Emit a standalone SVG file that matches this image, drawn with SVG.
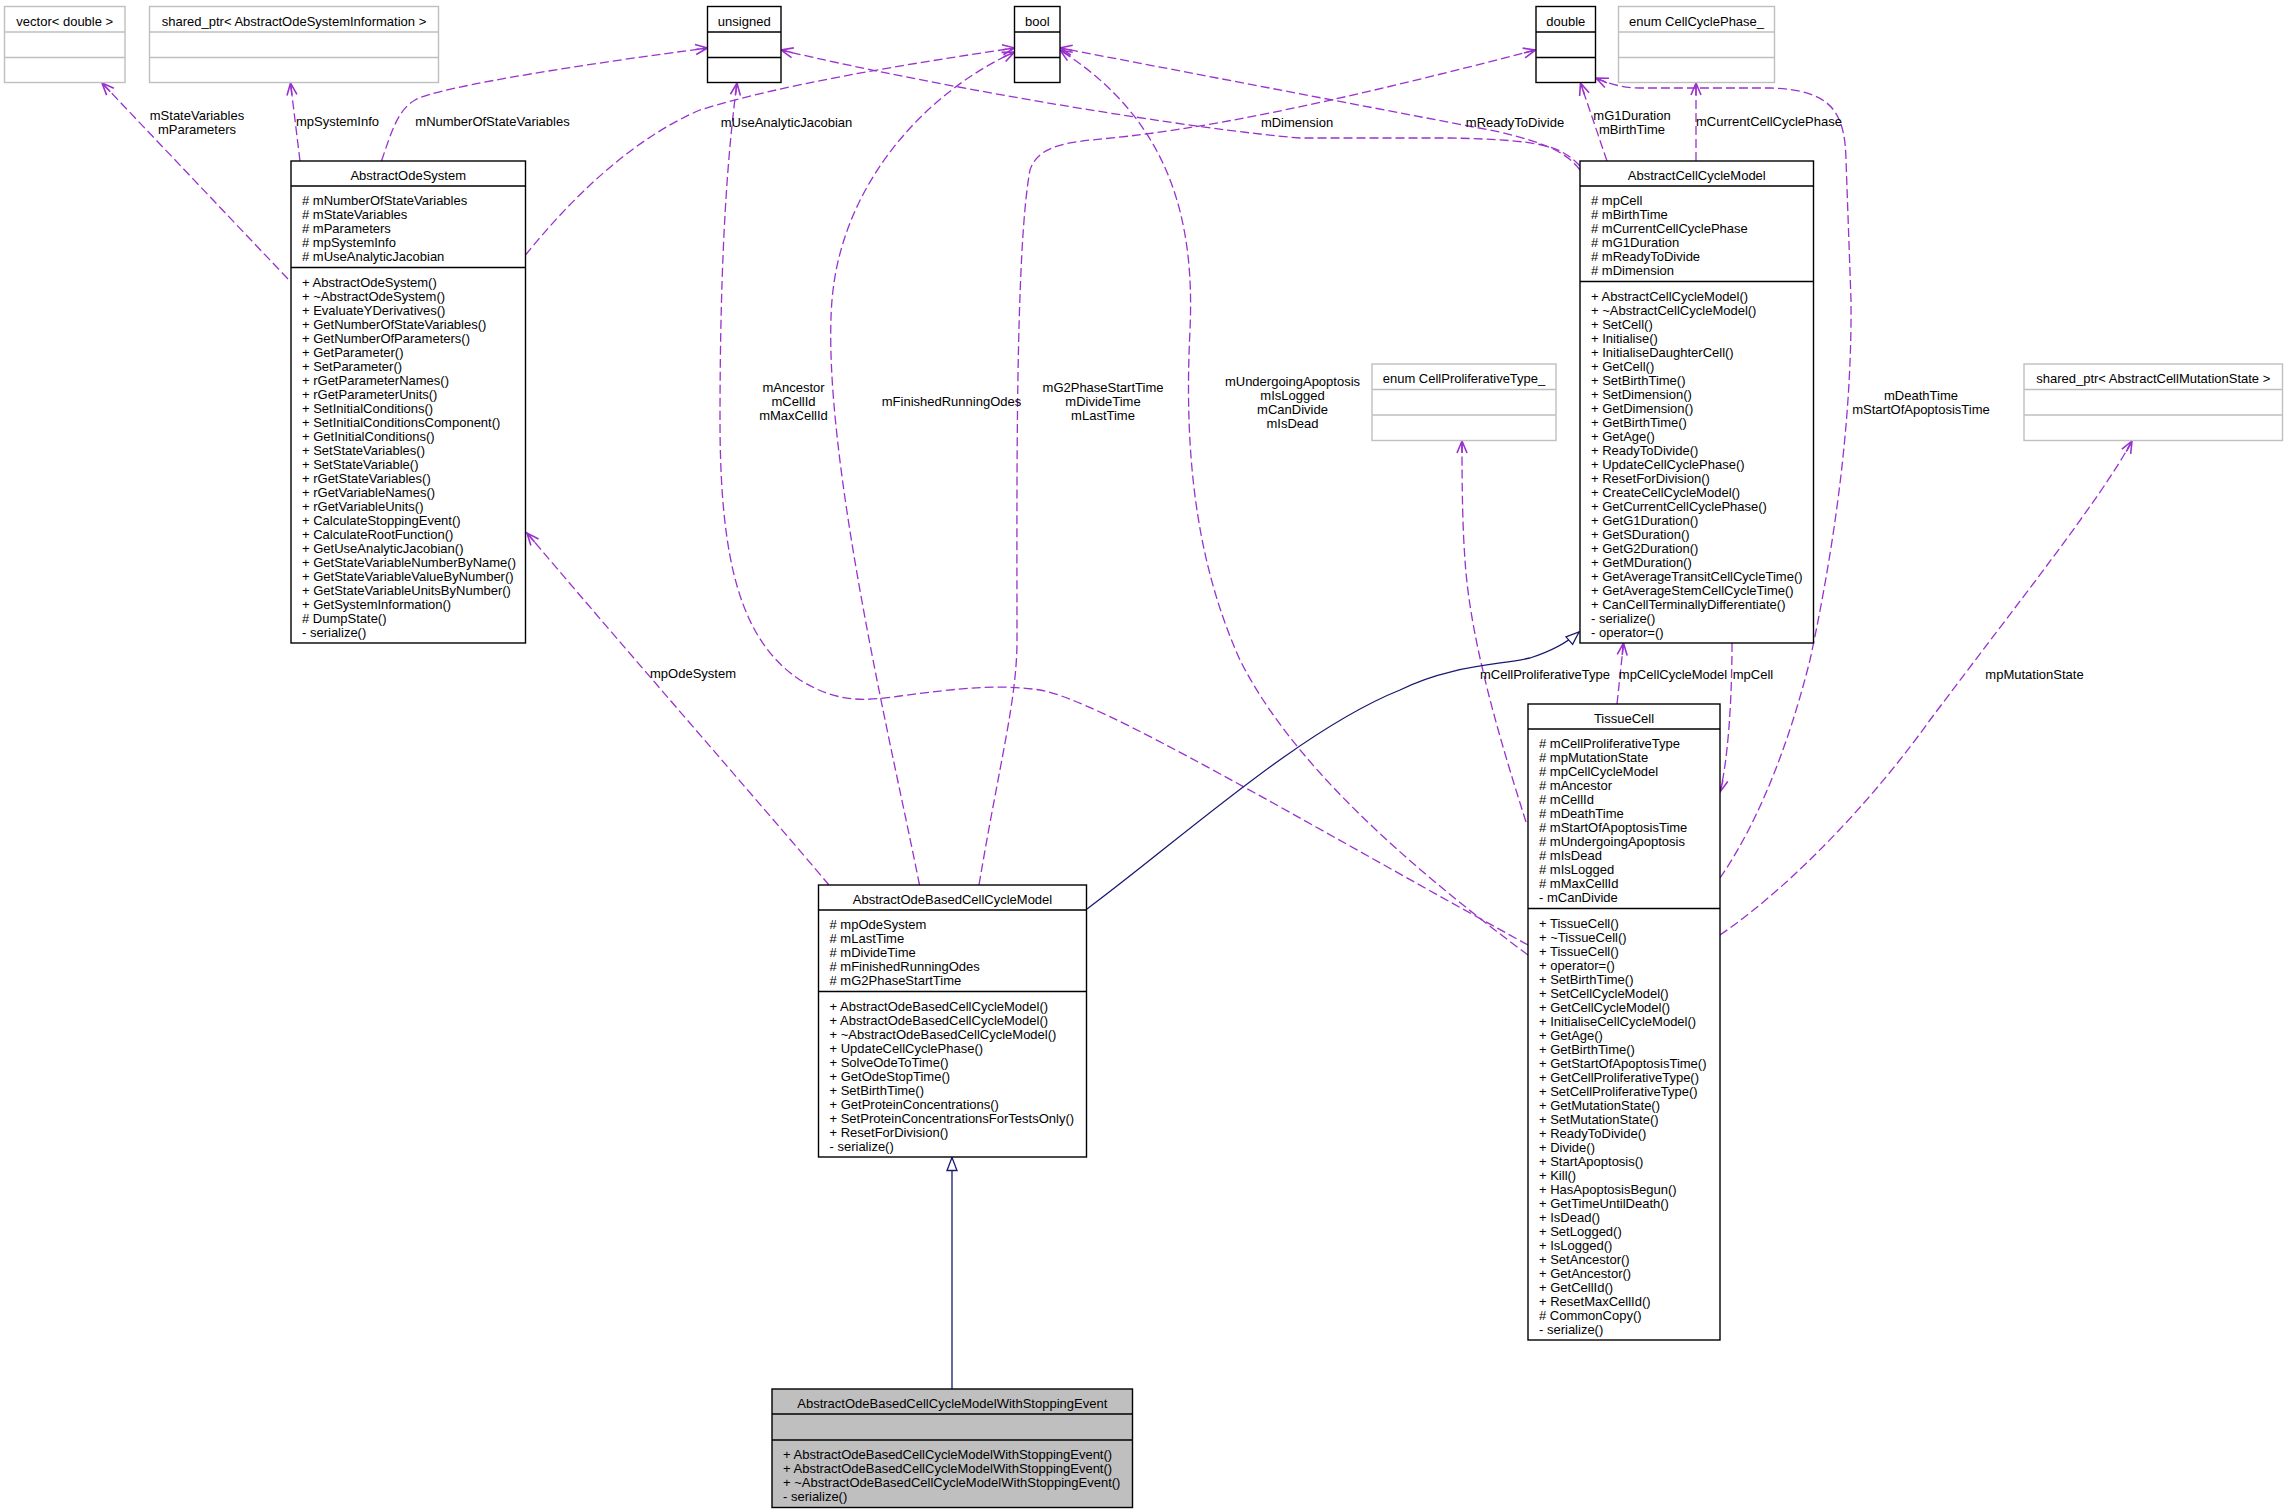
<svg xmlns="http://www.w3.org/2000/svg" width="2288" height="1512" viewBox="0 0 2288 1512">
<style>
text{font-family:"Liberation Sans",Arial,Helvetica,sans-serif;font-size:13px;fill:#000}
.t{text-anchor:middle}
.box{fill:#fff;stroke:#000;stroke-width:1.4}
.ext{fill:#fff;stroke:#bfbfbf;stroke-width:1.4}
.sel{fill:#bfbfbf;stroke:#000;stroke-width:1.4}
.sep{stroke:#000;stroke-width:1.4}
.sepx{stroke:#bfbfbf;stroke-width:1.4}
.use{fill:none;stroke:#9a32cd;stroke-width:1.3;stroke-dasharray:9,4;marker-end:url(#open)}
.inh{fill:none;stroke:#191970;stroke-width:1.3;marker-end:url(#tri)}
.lbl{text-anchor:middle}
</style>
<defs>
<marker id="open" markerUnits="userSpaceOnUse" markerWidth="16" markerHeight="14" refX="13" refY="6" orient="auto" viewBox="0 0 16 12">
<path d="M1,1 L13,6 L1,11 M1,6 L13,6" fill="none" stroke="#9a32cd" stroke-width="1.6"/>
</marker>
<marker id="tri" markerUnits="userSpaceOnUse" markerWidth="16" markerHeight="14" refX="14" refY="6" orient="auto" viewBox="0 0 16 12">
<path d="M1,1 L14,6 L1,11 Z" fill="#fff" stroke="#191970" stroke-width="1.3"/>
</marker>
</defs>
<rect width="2288" height="1512" fill="#fff"/>

<g id="connectors">
<path class="use" d="M288,279 L102,83"/>
<path class="use" d="M300,161 L290.5,83"/>
<path class="use" d="M381.5,161 C392,130 398,110 415,100 C440,86 600,62 707.5,48"/>
<path class="use" d="M525.5,255 C570,200 630,140 700,110 C780,85 900,65 1014.5,48"/>
<path class="use" d="M829,885 C770,815 600,620 527,533"/>
<path class="use" d="M919.5,885 C895,760 820,450 832,300 C842,180 930,90 1014.5,52"/>
<path class="use" d="M979,885 C1000,760 1017,700 1017,640 C1017,500 1015,250 1030,170 C1040,140 1080,142 1130,136 C1250,122 1400,85 1535.5,50"/>
<path class="use" d="M1528,945 C1300,820 1100,700 1040,690 C1000,684 960,688 900,696 C870,700 840,705 800,680 C740,640 720,560 720,420 C720,250 728,150 737,83"/>
<path class="use" d="M1528,955 C1400,860 1290,760 1240,660 C1195,560 1184,450 1190,330 C1195,220 1170,120 1060,50"/>
<path class="use" d="M1580,166 C1560,145 1540,140 1450,138 L1300,138 C1200,130 950,90 781,50"/>
<path class="use" d="M1580,170 C1565,150 1540,142 1500,132 L1060,48"/>
<path class="use" d="M1607,161 L1580.5,83"/>
<path class="use" d="M1696,161 L1696,83"/>
<path class="use" d="M1720,878 C1760,820 1790,740 1810,660 C1840,520 1852,400 1851,300 L1846,160 C1845,110 1830,90 1770,88 L1640,88 C1620,88 1605,82 1596,78"/>
<path class="use" d="M1617,704 L1623.5,643"/>
<path class="use" d="M1732,643 C1732,700 1728,760 1720,792"/>
<path class="use" d="M1526,822 C1500,740 1470,640 1465,560 C1462,520 1462,470 1462,441"/>
<path class="use" d="M1720,935 C1800,880 1880,790 1930,720 C2020,600 2100,500 2132,441"/>
<path class="inh" d="M1087,909 C1180,840 1300,730 1400,690 C1450,665 1500,665 1530,658 C1555,650 1570,640 1579,632"/>
<path class="inh" d="M952,1389 L952,1157.5"/>

<text class="lbl" x="197" y="119.5">mStateVariables</text>
<text class="lbl" x="197" y="133.5">mParameters</text>
<text class="lbl" x="337.5" y="126">mpSystemInfo</text>
<text class="lbl" x="492.5" y="126">mNumberOfStateVariables</text>
<text class="lbl" x="786.5" y="126.5">mUseAnalyticJacobian</text>
<text class="lbl" x="1297" y="126.5">mDimension</text>
<text class="lbl" x="1515" y="126.5">mReadyToDivide</text>
<text class="lbl" x="1632" y="119.5">mG1Duration</text>
<text class="lbl" x="1632" y="133.5">mBirthTime</text>
<text class="lbl" x="1769" y="126">mCurrentCellCyclePhase</text>
<text class="lbl" x="793.5" y="392">mAncestor</text>
<text class="lbl" x="793.5" y="406">mCellId</text>
<text class="lbl" x="793.5" y="420">mMaxCellId</text>
<text class="lbl" x="951.5" y="406">mFinishedRunningOdes</text>
<text class="lbl" x="1103" y="392">mG2PhaseStartTime</text>
<text class="lbl" x="1103" y="406">mDivideTime</text>
<text class="lbl" x="1103" y="420">mLastTime</text>
<text class="lbl" x="1292.5" y="385.5">mUndergoingApoptosis</text>
<text class="lbl" x="1292.5" y="399.5">mIsLogged</text>
<text class="lbl" x="1292.5" y="413.5">mCanDivide</text>
<text class="lbl" x="1292.5" y="427.5">mIsDead</text>
<text class="lbl" x="1921" y="399.5">mDeathTime</text>
<text class="lbl" x="1921" y="413.5">mStartOfApoptosisTime</text>
<text class="lbl" x="693" y="677.5">mpOdeSystem</text>
<text class="lbl" x="1545" y="678.5">mCellProliferativeType</text>
<text class="lbl" x="1673" y="678.5">mpCellCycleModel</text>
<text class="lbl" x="1753" y="678.5">mpCell</text>
<text class="lbl" x="2034.5" y="678.5">mpMutationState</text>
</g>

<g id="vector_double">
<rect class="ext" x="4.5" y="6.5" width="120.5" height="76"/>
<line class="sepx" x1="4.5" y1="32" x2="125" y2="32"/>
<line class="sepx" x1="4.5" y1="57.5" x2="125" y2="57.5"/>
<text class="t" x="64.75" y="25.5">vector&lt; double &gt;</text>
</g>

<g id="shared_ptr_AbstractOdeSystemInformation">
<rect class="ext" x="149.5" y="6.5" width="289" height="76"/>
<line class="sepx" x1="149.5" y1="32" x2="438.5" y2="32"/>
<line class="sepx" x1="149.5" y1="57.5" x2="438.5" y2="57.5"/>
<text class="t" x="294" y="25.5">shared_ptr&lt; AbstractOdeSystemInformation &gt;</text>
</g>

<g id="unsigned">
<rect class="box" x="707.5" y="6.5" width="73.5" height="76"/>
<line class="sep" x1="707.5" y1="32" x2="781" y2="32"/>
<line class="sep" x1="707.5" y1="57.5" x2="781" y2="57.5"/>
<text class="t" x="744.25" y="25.5">unsigned</text>
</g>

<g id="bool">
<rect class="box" x="1014.5" y="6.5" width="45.5" height="76"/>
<line class="sep" x1="1014.5" y1="32" x2="1060" y2="32"/>
<line class="sep" x1="1014.5" y1="57.5" x2="1060" y2="57.5"/>
<text class="t" x="1037.25" y="25.5">bool</text>
</g>

<g id="double">
<rect class="box" x="1536" y="6.5" width="59.5" height="76"/>
<line class="sep" x1="1536" y1="32" x2="1595.5" y2="32"/>
<line class="sep" x1="1536" y1="57.5" x2="1595.5" y2="57.5"/>
<text class="t" x="1565.75" y="25.5">double</text>
</g>

<g id="enum_CellCyclePhase_">
<rect class="ext" x="1618.5" y="6.5" width="156" height="76"/>
<line class="sepx" x1="1618.5" y1="32" x2="1774.5" y2="32"/>
<line class="sepx" x1="1618.5" y1="57.5" x2="1774.5" y2="57.5"/>
<text class="t" x="1696.5" y="25.5">enum CellCyclePhase_</text>
</g>

<g id="enum_CellProliferativeType_">
<rect class="ext" x="1372" y="364" width="184" height="76.5"/>
<line class="sepx" x1="1372" y1="389.5" x2="1556" y2="389.5"/>
<line class="sepx" x1="1372" y1="415" x2="1556" y2="415"/>
<text class="t" x="1464" y="383">enum CellProliferativeType_</text>
</g>

<g id="shared_ptr_AbstractCellMutationState">
<rect class="ext" x="2024" y="364" width="258.5" height="76.5"/>
<line class="sepx" x1="2024" y1="389.5" x2="2282.5" y2="389.5"/>
<line class="sepx" x1="2024" y1="415" x2="2282.5" y2="415"/>
<text class="t" x="2153.25" y="383">shared_ptr&lt; AbstractCellMutationState &gt;</text>
</g>

<g id="AbstractOdeSystem">
<rect class="box" x="291" y="161" width="234.5" height="482"/>
<line class="sep" x1="291" y1="186" x2="525.5" y2="186"/>
<line class="sep" x1="291" y1="267.5" x2="525.5" y2="267.5"/>
<text class="t" x="408.25" y="180">AbstractOdeSystem</text>
<text x="302" y="205"><tspan x="302" dy="0"># mNumberOfStateVariables</tspan><tspan x="302" dy="14"># mStateVariables</tspan><tspan x="302" dy="14"># mParameters</tspan><tspan x="302" dy="14"># mpSystemInfo</tspan><tspan x="302" dy="14"># mUseAnalyticJacobian</tspan></text>
<text x="302" y="286.5"><tspan x="302" dy="0">+ AbstractOdeSystem()</tspan><tspan x="302" dy="14">+ ~AbstractOdeSystem()</tspan><tspan x="302" dy="14">+ EvaluateYDerivatives()</tspan><tspan x="302" dy="14">+ GetNumberOfStateVariables()</tspan><tspan x="302" dy="14">+ GetNumberOfParameters()</tspan><tspan x="302" dy="14">+ GetParameter()</tspan><tspan x="302" dy="14">+ SetParameter()</tspan><tspan x="302" dy="14">+ rGetParameterNames()</tspan><tspan x="302" dy="14">+ rGetParameterUnits()</tspan><tspan x="302" dy="14">+ SetInitialConditions()</tspan><tspan x="302" dy="14">+ SetInitialConditionsComponent()</tspan><tspan x="302" dy="14">+ GetInitialConditions()</tspan><tspan x="302" dy="14">+ SetStateVariables()</tspan><tspan x="302" dy="14">+ SetStateVariable()</tspan><tspan x="302" dy="14">+ rGetStateVariables()</tspan><tspan x="302" dy="14">+ rGetVariableNames()</tspan><tspan x="302" dy="14">+ rGetVariableUnits()</tspan><tspan x="302" dy="14">+ CalculateStoppingEvent()</tspan><tspan x="302" dy="14">+ CalculateRootFunction()</tspan><tspan x="302" dy="14">+ GetUseAnalyticJacobian()</tspan><tspan x="302" dy="14">+ GetStateVariableNumberByName()</tspan><tspan x="302" dy="14">+ GetStateVariableValueByNumber()</tspan><tspan x="302" dy="14">+ GetStateVariableUnitsByNumber()</tspan><tspan x="302" dy="14">+ GetSystemInformation()</tspan><tspan x="302" dy="14"># DumpState()</tspan><tspan x="302" dy="14">- serialize()</tspan></text>
</g>

<g id="AbstractCellCycleModel">
<rect class="box" x="1580" y="161" width="233.5" height="482"/>
<line class="sep" x1="1580" y1="186" x2="1813.5" y2="186"/>
<line class="sep" x1="1580" y1="281.5" x2="1813.5" y2="281.5"/>
<text class="t" x="1696.75" y="180">AbstractCellCycleModel</text>
<text x="1591" y="205"><tspan x="1591" dy="0"># mpCell</tspan><tspan x="1591" dy="14"># mBirthTime</tspan><tspan x="1591" dy="14"># mCurrentCellCyclePhase</tspan><tspan x="1591" dy="14"># mG1Duration</tspan><tspan x="1591" dy="14"># mReadyToDivide</tspan><tspan x="1591" dy="14"># mDimension</tspan></text>
<text x="1591" y="300.5"><tspan x="1591" dy="0">+ AbstractCellCycleModel()</tspan><tspan x="1591" dy="14">+ ~AbstractCellCycleModel()</tspan><tspan x="1591" dy="14">+ SetCell()</tspan><tspan x="1591" dy="14">+ Initialise()</tspan><tspan x="1591" dy="14">+ InitialiseDaughterCell()</tspan><tspan x="1591" dy="14">+ GetCell()</tspan><tspan x="1591" dy="14">+ SetBirthTime()</tspan><tspan x="1591" dy="14">+ SetDimension()</tspan><tspan x="1591" dy="14">+ GetDimension()</tspan><tspan x="1591" dy="14">+ GetBirthTime()</tspan><tspan x="1591" dy="14">+ GetAge()</tspan><tspan x="1591" dy="14">+ ReadyToDivide()</tspan><tspan x="1591" dy="14">+ UpdateCellCyclePhase()</tspan><tspan x="1591" dy="14">+ ResetForDivision()</tspan><tspan x="1591" dy="14">+ CreateCellCycleModel()</tspan><tspan x="1591" dy="14">+ GetCurrentCellCyclePhase()</tspan><tspan x="1591" dy="14">+ GetG1Duration()</tspan><tspan x="1591" dy="14">+ GetSDuration()</tspan><tspan x="1591" dy="14">+ GetG2Duration()</tspan><tspan x="1591" dy="14">+ GetMDuration()</tspan><tspan x="1591" dy="14">+ GetAverageTransitCellCycleTime()</tspan><tspan x="1591" dy="14">+ GetAverageStemCellCycleTime()</tspan><tspan x="1591" dy="14">+ CanCellTerminallyDifferentiate()</tspan><tspan x="1591" dy="14">- serialize()</tspan><tspan x="1591" dy="14">- operator=()</tspan></text>
</g>

<g id="AbstractOdeBasedCellCycleModel">
<rect class="box" x="818.5" y="885" width="268" height="272"/>
<line class="sep" x1="818.5" y1="910" x2="1086.5" y2="910"/>
<line class="sep" x1="818.5" y1="991.5" x2="1086.5" y2="991.5"/>
<text class="t" x="952.5" y="904">AbstractOdeBasedCellCycleModel</text>
<text x="829.5" y="929"><tspan x="829.5" dy="0"># mpOdeSystem</tspan><tspan x="829.5" dy="14"># mLastTime</tspan><tspan x="829.5" dy="14"># mDivideTime</tspan><tspan x="829.5" dy="14"># mFinishedRunningOdes</tspan><tspan x="829.5" dy="14"># mG2PhaseStartTime</tspan></text>
<text x="829.5" y="1010.5"><tspan x="829.5" dy="0">+ AbstractOdeBasedCellCycleModel()</tspan><tspan x="829.5" dy="14">+ AbstractOdeBasedCellCycleModel()</tspan><tspan x="829.5" dy="14">+ ~AbstractOdeBasedCellCycleModel()</tspan><tspan x="829.5" dy="14">+ UpdateCellCyclePhase()</tspan><tspan x="829.5" dy="14">+ SolveOdeToTime()</tspan><tspan x="829.5" dy="14">+ GetOdeStopTime()</tspan><tspan x="829.5" dy="14">+ SetBirthTime()</tspan><tspan x="829.5" dy="14">+ GetProteinConcentrations()</tspan><tspan x="829.5" dy="14">+ SetProteinConcentrationsForTestsOnly()</tspan><tspan x="829.5" dy="14">+ ResetForDivision()</tspan><tspan x="829.5" dy="14">- serialize()</tspan></text>
</g>

<g id="AbstractOdeBasedCellCycleModelWithStoppingEvent">
<rect class="sel" x="772" y="1389" width="360.5" height="118.5"/>
<line class="sep" x1="772" y1="1414" x2="1132.5" y2="1414"/>
<line class="sep" x1="772" y1="1440" x2="1132.5" y2="1440"/>
<text class="t" x="952.25" y="1408">AbstractOdeBasedCellCycleModelWithStoppingEvent</text>
<text x="783" y="1459"><tspan x="783" dy="0">+ AbstractOdeBasedCellCycleModelWithStoppingEvent()</tspan><tspan x="783" dy="14">+ AbstractOdeBasedCellCycleModelWithStoppingEvent()</tspan><tspan x="783" dy="14">+ ~AbstractOdeBasedCellCycleModelWithStoppingEvent()</tspan><tspan x="783" dy="14">- serialize()</tspan></text>
</g>

<g id="TissueCell">
<rect class="box" x="1528" y="704" width="192" height="636"/>
<line class="sep" x1="1528" y1="729" x2="1720" y2="729"/>
<line class="sep" x1="1528" y1="908.5" x2="1720" y2="908.5"/>
<text class="t" x="1624" y="723">TissueCell</text>
<text x="1539" y="748"><tspan x="1539" dy="0"># mCellProliferativeType</tspan><tspan x="1539" dy="14"># mpMutationState</tspan><tspan x="1539" dy="14"># mpCellCycleModel</tspan><tspan x="1539" dy="14"># mAncestor</tspan><tspan x="1539" dy="14"># mCellId</tspan><tspan x="1539" dy="14"># mDeathTime</tspan><tspan x="1539" dy="14"># mStartOfApoptosisTime</tspan><tspan x="1539" dy="14"># mUndergoingApoptosis</tspan><tspan x="1539" dy="14"># mIsDead</tspan><tspan x="1539" dy="14"># mIsLogged</tspan><tspan x="1539" dy="14"># mMaxCellId</tspan><tspan x="1539" dy="14">- mCanDivide</tspan></text>
<text x="1539" y="927.5"><tspan x="1539" dy="0">+ TissueCell()</tspan><tspan x="1539" dy="14">+ ~TissueCell()</tspan><tspan x="1539" dy="14">+ TissueCell()</tspan><tspan x="1539" dy="14">+ operator=()</tspan><tspan x="1539" dy="14">+ SetBirthTime()</tspan><tspan x="1539" dy="14">+ SetCellCycleModel()</tspan><tspan x="1539" dy="14">+ GetCellCycleModel()</tspan><tspan x="1539" dy="14">+ InitialiseCellCycleModel()</tspan><tspan x="1539" dy="14">+ GetAge()</tspan><tspan x="1539" dy="14">+ GetBirthTime()</tspan><tspan x="1539" dy="14">+ GetStartOfApoptosisTime()</tspan><tspan x="1539" dy="14">+ GetCellProliferativeType()</tspan><tspan x="1539" dy="14">+ SetCellProliferativeType()</tspan><tspan x="1539" dy="14">+ GetMutationState()</tspan><tspan x="1539" dy="14">+ SetMutationState()</tspan><tspan x="1539" dy="14">+ ReadyToDivide()</tspan><tspan x="1539" dy="14">+ Divide()</tspan><tspan x="1539" dy="14">+ StartApoptosis()</tspan><tspan x="1539" dy="14">+ Kill()</tspan><tspan x="1539" dy="14">+ HasApoptosisBegun()</tspan><tspan x="1539" dy="14">+ GetTimeUntilDeath()</tspan><tspan x="1539" dy="14">+ IsDead()</tspan><tspan x="1539" dy="14">+ SetLogged()</tspan><tspan x="1539" dy="14">+ IsLogged()</tspan><tspan x="1539" dy="14">+ SetAncestor()</tspan><tspan x="1539" dy="14">+ GetAncestor()</tspan><tspan x="1539" dy="14">+ GetCellId()</tspan><tspan x="1539" dy="14">+ ResetMaxCellId()</tspan><tspan x="1539" dy="14"># CommonCopy()</tspan><tspan x="1539" dy="14">- serialize()</tspan></text>
</g>
</svg>
